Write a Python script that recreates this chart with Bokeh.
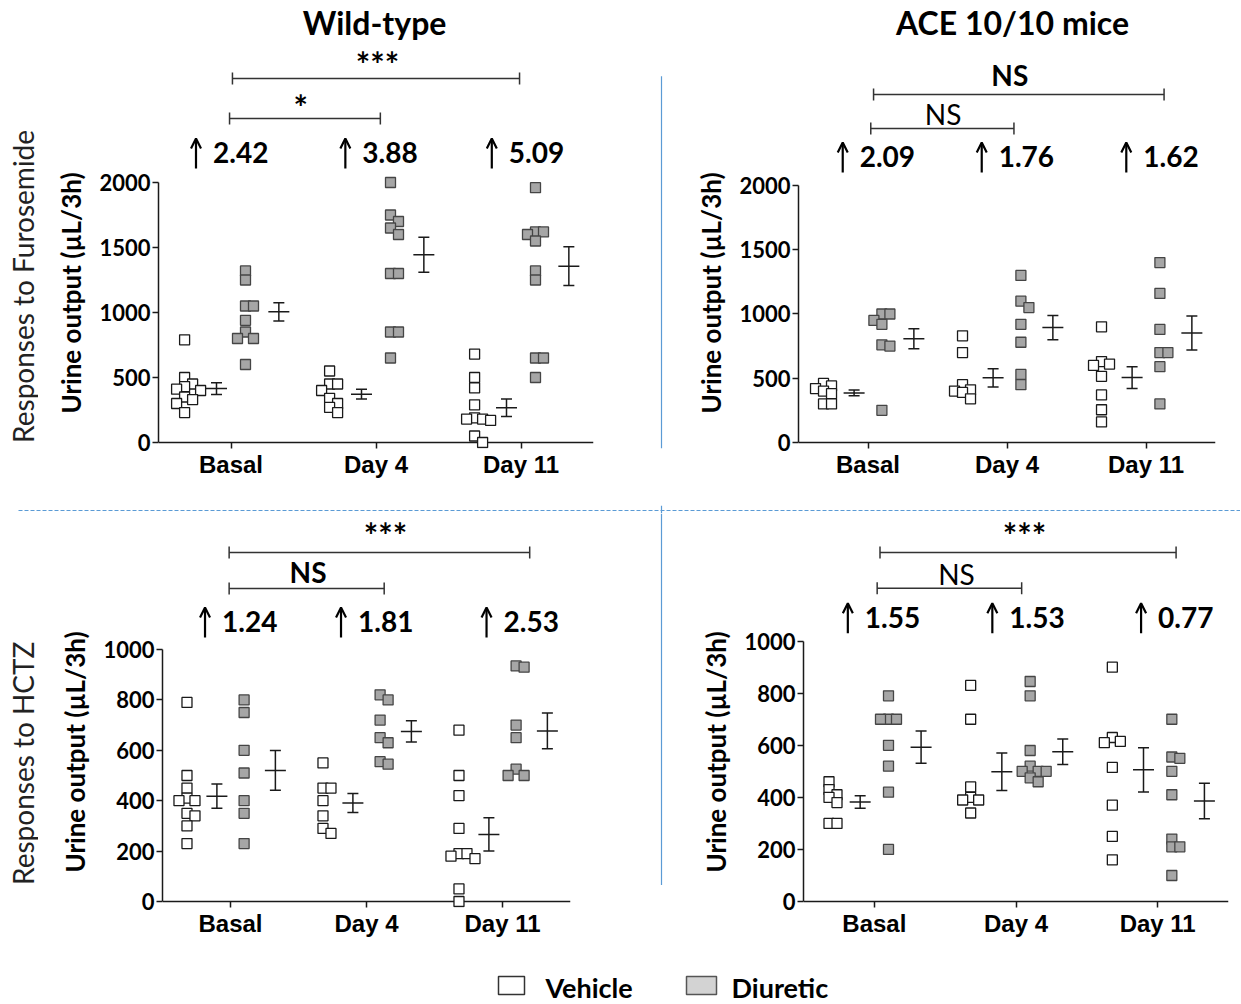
import numpy as np
from bokeh.plotting import figure
from bokeh.layouts import column, row
from bokeh.models import Range1d, FixedTicker, Span, Arrow, OpenHead, Title
from bokeh.core.properties import value
from bokeh.embed import file_html
from bokeh.resources import INLINE

# ---------------- data ----------------
categories = ["Basal", "Day 4", "Day 11"]

# Wild-type, furosemide (uL/3h)
wt_furo_vehicle = [
    [790, 500, 450, 430, 410, 400, 350, 330, 300, 230],
    [550, 450, 450, 400, 340, 300, 270, 230],
    [680, 500, 420, 290, 190, 180, 180, 170, 50, 0],
]
wt_furo_diuretic = [
    [1320, 1250, 1050, 1050, 940, 850, 800, 800, 600],
    [2000, 1750, 1700, 1650, 1600, 1300, 1300, 850, 850, 650],
    [1960, 1620, 1620, 1600, 1550, 1320, 1250, 650, 650, 500],
]
wt_furo_vehicle_mean = [415, 372, 267]
wt_furo_vehicle_sem = [45, 37, 67]
wt_furo_diuretic_mean = [1005, 1444, 1356]
wt_furo_diuretic_sem = [70, 134, 149]
wt_furo_fold = ["2.42", "3.88", "5.09"]
wt_furo_sig = ["***", "*"]

# ACE 10/10, furosemide
ace_furo_vehicle = [
    [460, 440, 420, 400, 380, 300, 300],
    [830, 700, 450, 410, 400, 390, 340],
    [900, 630, 610, 600, 515, 370, 255, 160],
]
ace_furo_diuretic = [
    [1000, 1000, 950, 920, 760, 750, 250],
    [1300, 1100, 1050, 920, 780, 530, 450],
    [1400, 1160, 880, 700, 700, 590, 300],
]
ace_furo_vehicle_mean = [386, 503, 505]
ace_furo_vehicle_sem = [23, 71, 84]
ace_furo_diuretic_mean = [808, 894, 852]
ace_furo_diuretic_sem = [78, 95, 132]
ace_furo_fold = ["2.09", "1.76", "1.62"]
ace_furo_sig = ["NS", "NS"]

# Wild-type, HCTZ
wt_hctz_vehicle = [
    [790, 500, 450, 410, 400, 400, 350, 340, 300, 230],
    [550, 450, 450, 400, 340, 290, 270],
    [680, 500, 420, 290, 190, 190, 180, 170, 50, 0],
]
wt_hctz_diuretic = [
    [800, 750, 600, 510, 400, 350, 230],
    [820, 800, 720, 650, 630, 555, 545],
    [935, 930, 700, 650, 525, 500, 500],
]
wt_hctz_vehicle_mean = [418, 391, 266]
wt_hctz_vehicle_sem = [48, 38, 66]
wt_hctz_diuretic_mean = [520, 675, 677]
wt_hctz_diuretic_sem = [79, 42, 71]
wt_hctz_fold = ["1.24", "1.81", "2.53"]
wt_hctz_sig = ["***", "NS"]

# ACE 10/10, HCTZ
ace_hctz_vehicle = [
    [460, 430, 410, 400, 380, 300, 300],
    [830, 700, 440, 400, 390, 390, 340],
    [900, 630, 615, 610, 515, 370, 250, 160],
]
ace_hctz_diuretic = [
    [790, 700, 700, 700, 600, 520, 420, 200],
    [845, 790, 580, 520, 500, 500, 500, 475, 460],
    [700, 555, 550, 500, 410, 240, 210, 210, 100],
]
ace_hctz_vehicle_mean = [382, 498, 506]
ace_hctz_vehicle_sem = [24, 72, 85]
ace_hctz_diuretic_mean = [593, 575, 386]
ace_hctz_diuretic_sem = [62, 49, 68]
ace_hctz_fold = ["1.55", "1.53", "0.77"]
ace_hctz_sig = ["***", "NS"]

furo_ticks = [0, 500, 1000, 1500, 2000]
hctz_ticks = [0, 200, 400, 600, 800, 1000]

# ---------------- style ----------------
INK = "#1a1a1a"
BLUE = "#5b9bd5"
VEH_FILL, VEH_LINE = "white", "#1a1a1a"
DIU_FILL, DIU_LINE = "#a6a6a6", "#454545"
FONT = "Lato"
MS = 10  # marker size in px


def swarm(vals, base, xppu, yppu, step=8.0):
    """Simple beeswarm: spread colliding points sideways (pixel space)."""
    vals = np.asarray(vals, dtype=float)
    order = np.argsort(-vals, kind="stable")
    placed = []
    xs = np.zeros(len(vals))
    ks = [0, 1, -1, 2, -2, 3, -3, 4, -4]
    for i in order:
        ypx = vals[i] * yppu
        for k in ks:
            dx = k * step
            if all(not (abs(dx - px) < step - 0.5 and abs(ypx - py) < step - 0.5) for px, py in placed):
                break
        placed.append((dx, ypx))
        xs[i] = base + dx / xppu
    return xs


def blank_fig(width, height, xr, yr):
    p = figure(width=width, height=height, x_range=Range1d(*xr), y_range=Range1d(*yr),
               output_backend="svg", toolbar_location=None,
               x_axis_type=None, y_axis_type=None,
               min_border_left=0, min_border_right=0, min_border_top=0, min_border_bottom=0)
    p.outline_line_color = None
    p.grid.visible = False
    p.background_fill_color = "white"
    p.border_fill_color = "white"
    return p


def make_panel(cfg):
    y0, y1 = cfg["yr"]
    p = figure(width=cfg["w"], height=cfg["h"], x_range=Range1d(0.5, 3.5), y_range=Range1d(y0, y1),
               output_backend="svg", toolbar_location=None,
               min_border_left=cfg["bl"], min_border_right=cfg["br"],
               min_border_top=0, min_border_bottom=cfg["bb"])
    p.outline_line_color = None
    p.grid.visible = False
    p.background_fill_color = "white"
    p.border_fill_color = "white"

    fw = cfg["w"] - cfg["bl"] - cfg["br"]
    fh = cfg["h"] - cfg["bb"]
    xppu = fw / 3.0
    yppu = fh / (y1 - y0)

    # x-axis baseline at y = 0
    p.add_layout(Span(location=0, dimension="width", line_color=INK, line_width=1.5, level="underlay"))

    series = [
        (cfg["veh"], cfg["veh_mean"], cfg["veh_sem"], -0.32, -0.10, VEH_FILL, VEH_LINE),
        (cfg["diu"], cfg["diu_mean"], cfg["diu_sem"], 0.10, 0.33, DIU_FILL, DIU_LINE),
    ]
    for vals_list, means, sems, off_p, off_m, fill, line in series:
        xs, ys = [], []
        for ci, vals in enumerate(vals_list):
            xs += list(swarm(vals, ci + 1 + off_p, xppu, yppu))
            ys += list(vals)
        p.scatter(xs, ys, marker="square", size=MS, fill_color=fill, line_color=line, line_width=1.3)
        mx = [ci + 1 + off_m for ci in range(3)]
        lo = [m - s for m, s in zip(means, sems)]
        hi = [m + s for m, s in zip(means, sems)]
        p.segment(mx, lo, mx, hi, line_color=INK, line_width=1.5)
        p.scatter(mx, means, marker="dash", size=21, line_color=INK, line_width=1.5)
        p.scatter(mx + mx, lo + hi, marker="dash", size=11, line_color=INK, line_width=1.5)

    # axes
    ya = p.yaxis[0]
    ya.ticker = FixedTicker(ticks=cfg["yticks"])
    ya.bounds = (0, cfg["yticks"][-1])
    ya.axis_line_color = INK
    ya.axis_line_width = 1.5
    ya.major_tick_line_color = INK
    ya.major_tick_line_width = 1.5
    ya.major_tick_out = 6
    ya.major_tick_in = 0
    ya.minor_tick_line_color = None
    ya.major_label_text_font = FONT
    ya.major_label_text_font_style = "bold"
    ya.major_label_text_font_size = "22px"
    ya.major_label_text_color = "black"
    ya.major_label_standoff = 2
    ya.axis_label = None

    # y-axis title, anchored near the bottom of the axis like the original
    p.add_layout(Title(text="Urine output (µL/3h)", align="left", offset=35, standoff=20,
                       text_font=FONT, text_font_style="bold", text_font_size="26px",
                       text_color="black"), "left")

    xa = p.xaxis[0]
    xa.ticker = FixedTicker(ticks=[1, 2, 3])
    xa.major_label_overrides = {i + 1: c for i, c in enumerate(categories)}
    xa.axis_line_color = None
    xa.major_tick_line_color = INK
    xa.major_tick_line_width = 1.5
    xa.major_tick_in = 6
    xa.major_tick_out = 0
    xa.minor_tick_line_color = None
    xa.major_label_text_font = "Liberation Sans"
    xa.major_label_text_font_style = "bold"
    xa.major_label_text_font_size = "24px"
    xa.major_label_text_color = "black"
    xa.major_label_standoff = 2

    # column title
    if cfg.get("title"):
        p.text([cfg["title_x"]], [cfg["title_y"]], text=[cfg["title"]], text_align="center",
               text_baseline="middle", text_font=value(FONT), text_font_style="bold",
               text_font_size="32px", text_color="black")

    # significance brackets
    tick_half = 6.0 / yppu
    for key, sig, bold in (("long", cfg["sig"][0], cfg["long_bold"]), ("short", cfg["sig"][1], cfg["short_bold"])):
        bx0, bx1, by = cfg[key]
        p.segment([bx0], [by], [bx1], [by], line_color="#333333", line_width=1.5)
        p.segment([bx0, bx1], [by - tick_half] * 2, [bx0, bx1], [by + tick_half] * 2,
                  line_color="#333333", line_width=1.5)
        tx, ty = cfg[key + "_text"]
        star = sig.startswith("*")
        p.text([tx], [ty], text=[sig], text_align="center", text_baseline="middle",
               text_font=value(FONT), text_font_style="bold" if bold else "normal",
               text_font_size="34px" if star else "28px", text_color="black")

    # fold-change labels: arrow + number
    fy = cfg["fold_y"]
    for fx in cfg["fold_x"]:
        ax = fx - 35.0 / xppu
        p.add_layout(Arrow(end=OpenHead(size=10, line_width=2.2, line_color="black"),
                           x_start=ax, y_start=fy - 16.0 / yppu, x_end=ax, y_end=fy + 14.0 / yppu,
                           line_width=2.2, line_color="black"))
    p.text(cfg["fold_x"], [fy] * 3, text=cfg["fold"], text_align="left", text_baseline="middle",
           text_font=value(FONT), text_font_style="bold", text_font_size="28px",
           text_color="black", x_offset=-18)
    return p


TOP_H, SEP_H, BOT_H, LEG_H = 503, 10, 437, 53
LAB_W, LEFT_W, VL_W, RIGHT_W = 38, 617, 13, 572
TOTAL_W = LAB_W + LEFT_W + VL_W + RIGHT_W

tl = make_panel(dict(
    w=LEFT_W, h=TOP_H, bl=120, br=62, bb=55, yr=(-46.2, 3400.0), yticks=furo_ticks,
    veh=wt_furo_vehicle, veh_mean=wt_furo_vehicle_mean, veh_sem=wt_furo_vehicle_sem,
    diu=wt_furo_diuretic, diu_mean=wt_furo_diuretic_mean, diu_sem=wt_furo_diuretic_sem,
    title="Wild-type", title_x=1.99, title_y=3231,
    sig=wt_furo_sig, long_bold=True, short_bold=True,
    long=(1.01, 2.99, 2800), long_text=(2.01, 2915),
    short=(0.99, 2.03, 2492), short_text=(1.48, 2585),
    fold=wt_furo_fold, fold_x=[1.0, 2.03, 3.04], fold_y=2231,
))
tr = make_panel(dict(
    w=RIGHT_W, h=TOP_H, bl=130, br=25, bb=55, yr=(-46.7, 3439.6), yticks=furo_ticks,
    veh=ace_furo_vehicle, veh_mean=ace_furo_vehicle_mean, veh_sem=ace_furo_vehicle_sem,
    diu=ace_furo_diuretic, diu_mean=ace_furo_diuretic_mean, diu_sem=ace_furo_diuretic_sem,
    title="ACE 10/10 mice", title_x=2.04, title_y=3268,
    sig=ace_furo_sig, long_bold=True, short_bold=False,
    long=(1.04, 3.13, 2708), long_text=(2.02, 2856),
    short=(1.02, 2.05, 2444), short_text=(1.54, 2555),
    fold=ace_furo_fold, fold_x=[1.07, 2.07, 3.11], fold_y=2226,
))
bl = make_panel(dict(
    w=LEFT_W, h=BOT_H, bl=124, br=85, bb=43, yr=(-23.8, 1539.7), yticks=hctz_ticks,
    veh=wt_hctz_vehicle, veh_mean=wt_hctz_vehicle_mean, veh_sem=wt_hctz_vehicle_sem,
    diu=wt_hctz_diuretic, diu_mean=wt_hctz_diuretic_mean, diu_sem=wt_hctz_diuretic_sem,
    sig=wt_hctz_sig, long_bold=True, short_bold=True,
    long=(0.99, 3.2, 1385), long_text=(2.14, 1456),
    short=(0.99, 2.13, 1242), short_text=(1.57, 1306),
    fold=wt_hctz_fold, fold_x=[1.07, 2.07, 3.14], fold_y=1111,
))
br = make_panel(dict(
    w=RIGHT_W, h=BOT_H, bl=135, br=12, bb=43, yr=(-23.0, 1490.4), yticks=hctz_ticks,
    veh=ace_hctz_vehicle, veh_mean=ace_hctz_vehicle_mean, veh_sem=ace_hctz_vehicle_sem,
    diu=ace_hctz_diuretic, diu_mean=ace_hctz_diuretic_mean, diu_sem=ace_hctz_diuretic_sem,
    sig=ace_hctz_sig, long_bold=True, short_bold=False,
    long=(1.04, 3.13, 1341), long_text=(2.06, 1410),
    short=(1.02, 2.04, 1203), short_text=(1.58, 1257),
    fold=ace_hctz_fold, fold_x=[1.06, 2.08, 3.13], fold_y=1092,
))

# row labels (coordinates = page pixels)
lab1 = blank_fig(LAB_W, TOP_H, (0, LAB_W), (503, 0))
lab1.text([22], [321], text=["Responses to Furosemide"], angle=np.pi / 2, text_align="center",
          text_baseline="middle", text_font=value(FONT), text_font_size="28px", text_color="#222222")
lab2 = blank_fig(LAB_W, BOT_H, (0, LAB_W), (950, 513))
lab2.text([22], [790], text=["Responses to HCTZ"], angle=np.pi / 2, text_align="center",
          text_baseline="middle", text_font=value(FONT), text_font_size="28px", text_color="#222222")

# separators
vl1 = blank_fig(VL_W, TOP_H, (655, 668), (503, 0))
vl1.segment([661], [85], [661], [503], line_color=BLUE, line_width=1.2)
vl2 = blank_fig(VL_W, BOT_H, (655, 668), (950, 513))
vl2.segment([661], [513], [661], [925], line_color=BLUE, line_width=1.2)
sep = blank_fig(TOTAL_W, SEP_H, (0, TOTAL_W), (513, 503))
sep.segment([18], [508], [TOTAL_W], [508], line_color=BLUE, line_width=1, line_dash="4 2")
sep.segment([661], [503], [661], [513], line_color=BLUE, line_width=1.2)

# legend
leg = blank_fig(TOTAL_W, LEG_H, (0, TOTAL_W), (1003, 950))
leg.rect([511], [985], width=26, height=18, fill_color="white", line_color="#333333", line_width=1.5)
leg.rect([701], [985], width=30, height=18, fill_color="#d3d3d3", line_color="#555555", line_width=1.5)
leg.text([545, 731], [987, 987], text=["Vehicle", "Diuretic"], text_align="left", text_baseline="middle",
         text_font=value(FONT), text_font_style="bold", text_font_size="27px", text_color="black")

layout = column(
    row(lab1, tl, vl1, tr, spacing=0),
    sep,
    row(lab2, bl, vl2, br, spacing=0),
    leg,
    spacing=0,
)

open("out.html", "w").write(file_html(layout, INLINE))
